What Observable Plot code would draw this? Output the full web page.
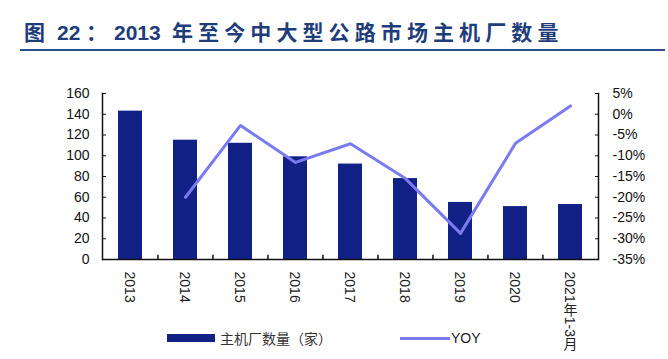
<!DOCTYPE html>
<html><head><meta charset="utf-8">
<script src="https://cdn.jsdelivr.net/npm/d3@7"></script>
<script src="https://cdn.jsdelivr.net/npm/@observablehq/plot@0.6"></script>
<style>
body{margin:0;background:#fff;}
#wrap{position:relative;width:668px;height:359px;overflow:hidden;font-family:"Liberation Sans",Arial,sans-serif;}
#chart{position:absolute;left:0;top:0;}
.t{position:absolute;top:22px;font-weight:bold;font-size:21px;line-height:21px;font-family:"Liberation Sans","Noto Sans CJK SC",sans-serif;color:#1f3d7a;white-space:nowrap;}
#rule{position:absolute;left:20px;top:49px;width:645px;height:2px;background:#2d4f8e;}
.lg{position:absolute;white-space:nowrap;}
</style>
</head><body>
<div id="wrap">
  <div id="chart"></div>
  <span class="t" style="left:24px;">图</span>
  <span class="t" style="left:57px;">22</span>
  <span class="t" style="left:86px;">：</span>
  <span class="t" style="left:114px;">2013</span>
  <span class="t" style="left:172px;letter-spacing:5.1px;">年至今中大型公路市场主机厂数量</span>
  <div id="rule"></div>
  <div class="lg" style="left:167px;top:334px;width:48px;height:8px;background:#112185;"></div>
  <div class="lg" style="left:220px;top:328px;font:14px 'Noto Sans CJK SC',sans-serif;line-height:20px;color:#333;">主机厂数量（家）</div>
  <div class="lg" style="left:400px;top:337px;width:50px;height:3px;background:#7b7bf0;"></div>
  <div class="lg" style="left:451px;top:329px;font:14px 'Liberation Sans',Arial,sans-serif;line-height:18px;color:#222;">YOY</div>
</div>
<script>
const categories = ["2013","2014","2015","2016","2017","2018","2019","2020","2021年1-3月"];
const counts = [143, 115, 112, 99, 92, 78, 55, 51, 53];
const yoyCategories = ["2014","2015","2016","2017","2018","2019","2020","2021年1-3月"];
const yoy = [-20, -2.7, -11.6, -7.1, -15.5, -28.7, -7, 2];
const leftTicks = [0, 20, 40, 60, 80, 100, 120, 140, 160];
const rightTicks = [-35, -30, -25, -20, -15, -10, -5, 0, 5];

const W = 668, H = 359, ML = 102, MR = 70, MT = 93, MB = 100;
const step = (W - ML - MR) / categories.length;
// map YOY (-35%..5%) onto the left scale (0..160)
const toLeft = v => (v + 35) * 4;
const fromLeft = d => Math.round(d / 4 - 35);

const barData = categories.map((c, i) => ({c, v: counts[i]}));
const lineData = yoyCategories.map((c, i) => ({c, v: yoy[i]}));

const chart = Plot.plot({
  width: W, height: H,
  marginLeft: ML, marginRight: MR, marginTop: MT, marginBottom: MB,
  style: {fontFamily: '"Liberation Sans", Arial, sans-serif', fontSize: "14px", color: "#111", background: "transparent"},
  x: {domain: categories, paddingInner: 0.56, paddingOuter: 0.28, align: 0.5, axis: null},
  y: {domain: [0, 160], axis: null},
  marks: [
    Plot.barY(barData, {x: "c", y: "v", fill: "#112185"}),
    Plot.lineY(lineData, {x: "c", y: d => toLeft(d.v), stroke: "#7b7bf0", strokeWidth: 3, curve: "linear"}),
    Plot.ruleY([0], {stroke: "#111", strokeWidth: 1.5}),
    Plot.ruleX(categories.slice(1), {x: d => d, y1: 0, y2: 4, dx: -step / 2, stroke: "#111", strokeWidth: 1.5}),
    Plot.frame({anchor: "left", stroke: "#111", strokeWidth: 1.5}),
    Plot.frame({anchor: "right", stroke: "#111", strokeWidth: 1.5}),
    Plot.axisY(leftTicks, {anchor: "left", label: null, tickSize: -4, tickPadding: 17, fontSize: 14, stroke: "#111"}),
    Plot.axisY(rightTicks.map(toLeft), {anchor: "right", label: null, tickSize: -4, tickPadding: 18, fontSize: 14, stroke: "#111", tickFormat: d => fromLeft(d) + "%"}),
    Plot.axisX({label: null, tickSize: 0, tickPadding: 12, fontSize: 14})
  ]
});
document.getElementById("chart").appendChild(chart);

// Vertical category labels reading top-to-bottom: Latin rotated clockwise, CJK upright.
const isCJK = ch => /[\u3000-\u9fff\uff00-\uffef]/.test(ch);
d3.select(chart).selectAll('g[aria-label="x-axis tick label"] text').each(function() {
  const t = d3.select(this);
  const s = this.textContent;
  const tr = t.attr("transform") || "";
  t.text(null)
    .attr("y", null).attr("dy", null)
    .attr("transform", tr + " rotate(90)")
    .attr("text-anchor", "start")
    .style("font-family", '"Liberation Sans", "Noto Sans CJK SC", sans-serif')
    .style("font-variant", "normal")
    .style("fill", "#222");
  let shifted = false;
  const chars = Array.from(s);
  chars.forEach((ch, i) => {
    const sp = t.append("tspan").text(ch);
    if (i === 0) sp.attr("dy", "0.36em");
    if (isCJK(ch)) {
      sp.attr("rotate", -90).attr("dx", shifted ? "0em" : "0.88em").attr("dy", shifted ? null : (i === 0 ? "0.50em" : "0.14em"));
      shifted = true;
    } else if (shifted) {
      sp.attr("dx", "-0.88em").attr("dy", "-0.14em");
      shifted = false;
    }
  });
});
</script>
</body></html>
